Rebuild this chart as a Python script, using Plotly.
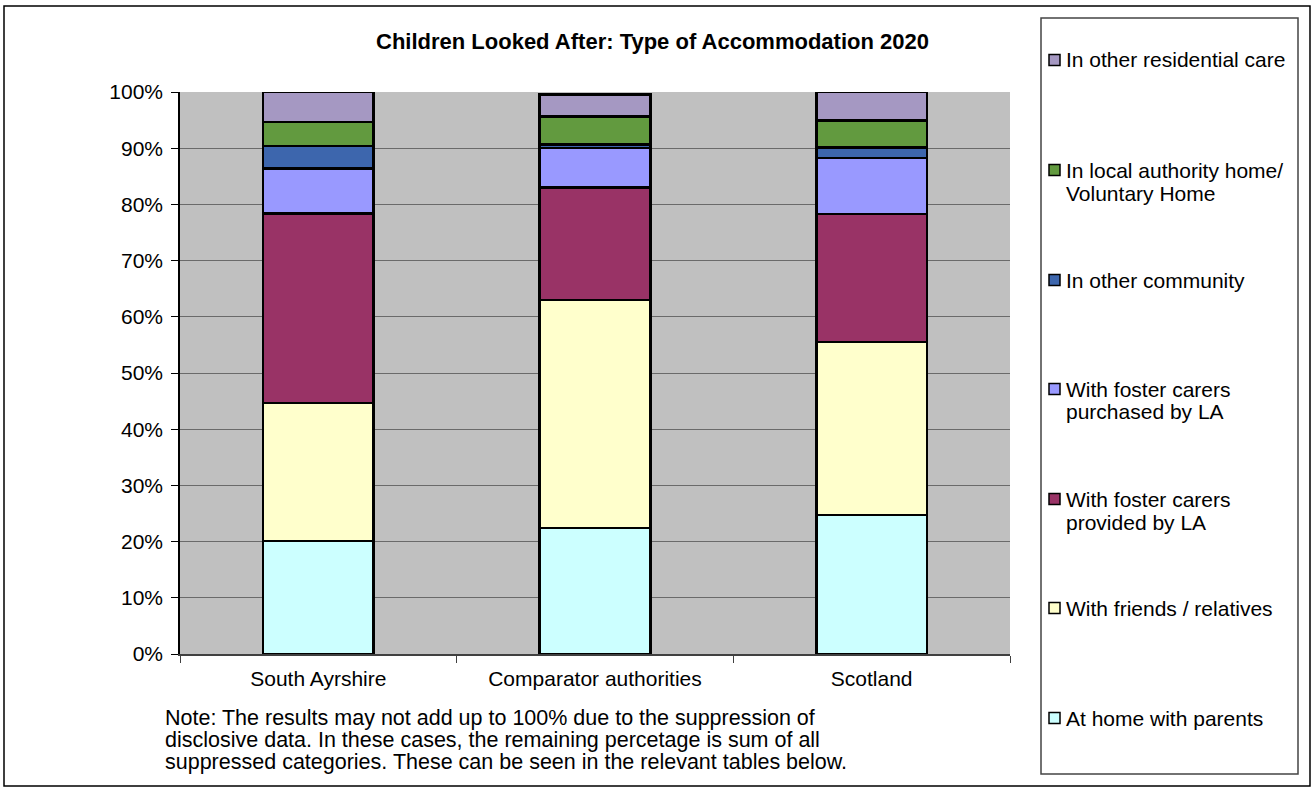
import plotly.graph_objects as go

# Accommodation type shares (%) by area, 2020
areas = ["South Ayrshire", "Comparator authorities", "Scotland"]

series_names = [
    "At home with parents",
    "With friends / relatives",
    "With foster carers<br>provided by LA",
    "With foster carers<br>purchased by LA",
    "In other community",
    "In local authority home/<br>Voluntary Home",
    "In other residential care",
]

at_home_with_parents = [20.1, 22.4, 24.7]
with_friends_relatives = [24.6, 40.6, 30.8]
foster_provided_by_la = [33.7, 20.0, 22.8]
foster_purchased_by_la = [8.0, 7.0, 10.0]
other_community = [4.0, 0.7, 1.8]
la_voluntary_home = [4.3, 4.9, 4.8]
other_residential_care = [5.3, 4.0, 5.1]

series_values = [
    at_home_with_parents,
    with_friends_relatives,
    foster_provided_by_la,
    foster_purchased_by_la,
    other_community,
    la_voluntary_home,
    other_residential_care,
]

series_colors = [
    "#CCFFFF",
    "#FFFFCC",
    "#993366",
    "#9999FF",
    "#3D66AD",
    "#629A3F",
    "#A598C2",
]

y_tick_values = list(range(0, 101, 10))
y_tick_labels = [f"{v}%" for v in y_tick_values]

title_text = "Children Looked After: Type of Accommodation 2020"
note_lines = [
    "Note: The results may not add up to 100% due to the suppression of",
    "disclosive data. In these cases, the remaining percetage is sum of all",
    "suppressed categories. These can be seen in the relevant tables below.",
]

W, H = 1314, 792
PLOT_L, PLOT_R, PLOT_T, PLOT_B = 180, 1010, 92, 654
FONT = "Liberation Sans, Arial, sans-serif"
LINE_GAP = 23


def px(x):
    return (x - PLOT_L) / (PLOT_R - PLOT_L)


def py(y):
    return (PLOT_B - y) / (PLOT_B - PLOT_T)


def text_line(x, y, text, size=21, bold=False, anchor="left"):
    return dict(xref="paper", yref="paper", x=px(x), y=py(y),
                xanchor=anchor, yanchor="middle",
                text=f"<b>{text}</b>" if bold else text, showarrow=False,
                font=dict(family=FONT, size=size, color="black"))


fig = go.Figure()
for name, vals, color in zip(series_names, series_values, series_colors):
    fig.add_trace(
        go.Bar(
            x=areas,
            y=vals,
            name=name.replace("<br>", " "),
            width=0.4,
            marker=dict(color=color, line=dict(color="black", width=2.5)),
            showlegend=False,
        )
    )

shapes = []
annotations = []

# outer chart frame and legend box
shapes.append(dict(type="rect", xref="paper", yref="paper",
                   x0=px(4), x1=px(1310), y0=py(786), y1=py(6),
                   line=dict(color="black", width=1.5), layer="below"))
shapes.append(dict(type="rect", xref="paper", yref="paper",
                   x0=px(1041), x1=px(1298), y0=py(774), y1=py(18),
                   line=dict(color="#444444", width=1.5), layer="below"))

# legend entries, top to bottom
legend_first_line_y = [60, 170, 280, 389, 499, 608, 718]
order = list(range(len(series_names)))[::-1]
for idx, ly in zip(order, legend_first_line_y):
    shapes.append(dict(type="rect", xref="paper", yref="paper",
                       x0=px(1049), x1=px(1060), y0=py(ly + 5.5), y1=py(ly - 5.5),
                       fillcolor=series_colors[idx],
                       line=dict(color="black", width=1.5)))
    for k, part in enumerate(series_names[idx].split("<br>")):
        annotations.append(text_line(1064, ly + k * LINE_GAP, part))

# chart title
annotations.append(text_line(652, 42, title_text, size=22, bold=True, anchor="center"))

# footnote
for k, line in enumerate(note_lines):
    annotations.append(text_line(163, 718 + k * 22, line, size=21.5))

fig.update_layout(
    width=W, height=H,
    margin=dict(l=PLOT_L, r=W - PLOT_R, t=PLOT_T, b=H - PLOT_B, pad=0),
    barmode="stack",
    paper_bgcolor="white",
    plot_bgcolor="#C0C0C0",
    font=dict(family=FONT, size=21, color="black"),
    shapes=shapes,
    annotations=annotations,
    showlegend=False,
)
fig.update_xaxes(
    type="category",
    tickson="boundaries",
    ticks="outside", ticklen=7, tickcolor="#404040", tickwidth=1,
    showline=True, linecolor="#404040", linewidth=1.5,
    showgrid=False,
    ticklabelstandoff=5,
    tickfont=dict(family=FONT, size=21),
)
fig.update_yaxes(
    range=[0, 100],
    tickvals=y_tick_values, ticktext=y_tick_labels,
    ticks="outside", ticklen=7, tickcolor="black", tickwidth=1,
    showline=True, linecolor="black", linewidth=1.5,
    showgrid=True, gridcolor="#6A6A6A", gridwidth=1,
    zeroline=False,
    ticklabelstandoff=4,
    tickfont=dict(family=FONT, size=21),
)

fig.write_html("out.html")
